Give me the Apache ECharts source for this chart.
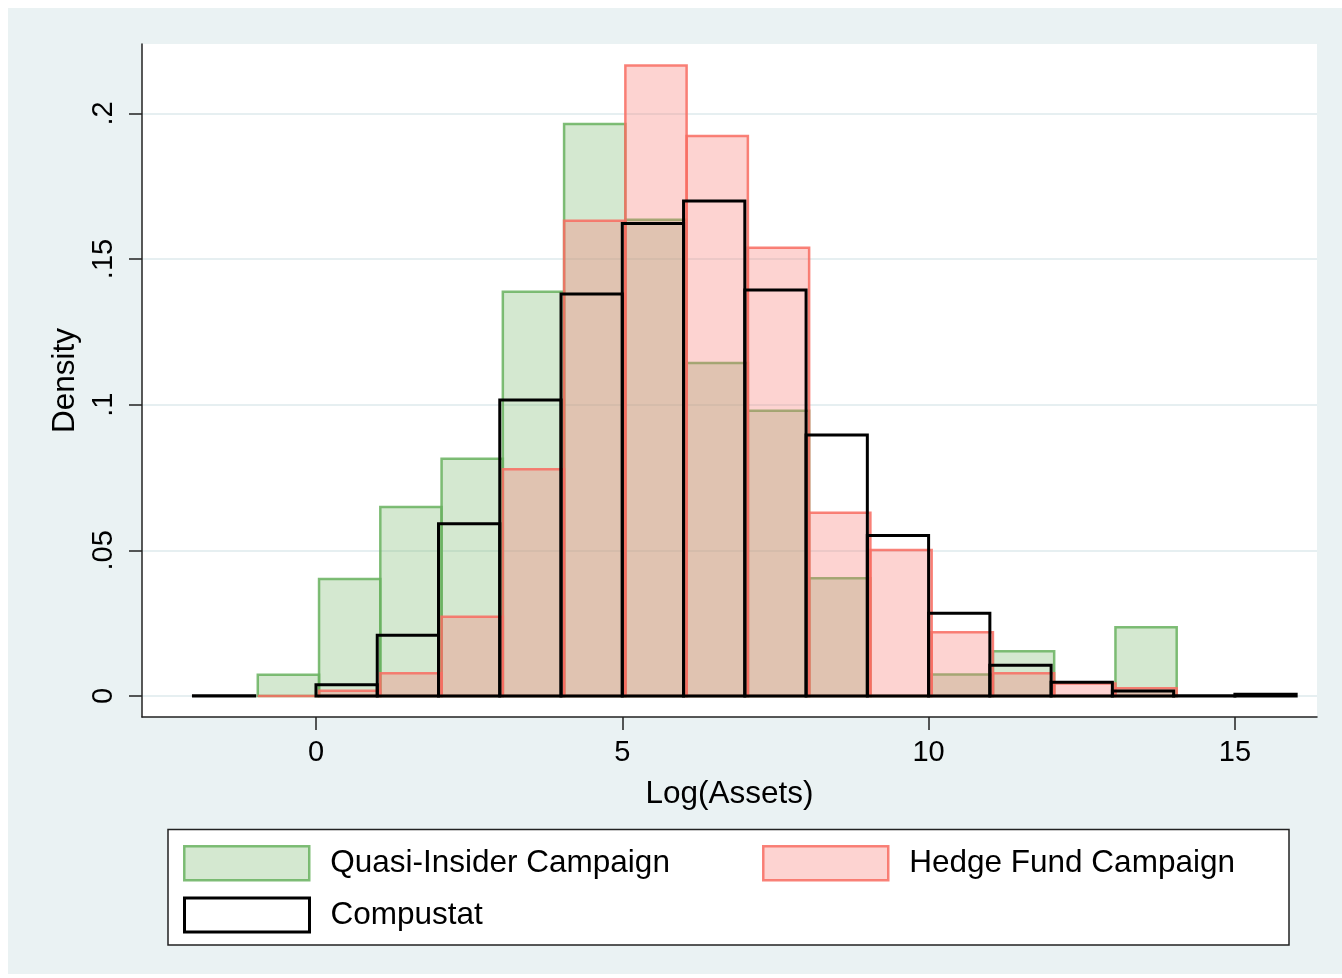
<!DOCTYPE html>
<html>
<head>
<meta charset="utf-8">
<title>Log(Assets) histogram</title>
<script src="https://cdn.jsdelivr.net/npm/echarts@6/dist/echarts.min.js"></script>
<style>
  html, body { margin: 0; padding: 0; background: #ffffff; }
  #chart { width: 1342px; height: 978px; }
</style>
</head>
<body>
<div id="chart"></div>
<script>
// Histogram bin lower edges (bin width 1)
const campaignBinStart = [-0.95, 0.05, 1.05, 2.05, 3.05, 4.05, 5.05, 6.05, 7.05, 8.05, 9.05, 10.05, 11.05, 12.05, 13.05];
const compustatBinStart = [-2, -1, 0, 1, 2, 3, 4, 5, 6, 7, 8, 9, 10, 11, 12, 13, 14, 15];
const binWidth = 1;

// Densities per bin
const quasiInsider = [0.0073, 0.0402, 0.0649, 0.0814, 0.1388, 0.1963, 0.1635, 0.1143, 0.0979, 0.0404, 0, 0.0074, 0.0154, 0, 0.0236];
const hedgeFund = [0, 0.0018, 0.0078, 0.0272, 0.0778, 0.1631, 0.2164, 0.1922, 0.1539, 0.0629, 0.0501, 0.0219, 0.0078, 0.0043, 0.0027];
const compustat = [0.0001, null, 0.0039, 0.0209, 0.0591, 0.1016, 0.1380, 0.1622, 0.1699, 0.1394, 0.0896, 0.0551, 0.0284, 0.0106, 0.0047, 0.0017, 0.0001, 0.0006];

// Axis ticks
const xTickValues = [0, 5, 10, 15];
const xTickLabels = ['0', '5', '10', '15'];
const yTickValues = [0, 0.05, 0.1, 0.15, 0.2];
const yTickLabels = ['0', '.05', '.1', '.15', '.2'];

const seriesNames = ['Quasi-Insider Campaign', 'Hedge Fund Campaign', 'Compustat'];

const styles = {
  quasi: { fill: 'rgba(120,185,110,0.32)', stroke: 'rgba(105,178,95,0.85)', lineWidth: 2.5 },
  hedge: { fill: 'rgba(250,120,115,0.33)', stroke: 'rgba(248,108,98,0.85)', lineWidth: 2.5 },
  comp:  { fill: 'none', stroke: '#000000', lineWidth: 3 }
};

function binData(starts, values) {
  const out = [];
  starts.forEach((s, i) => {
    if (values[i] !== null && values[i] !== undefined) {
      out.push([s, s + binWidth, values[i]]);
    }
  });
  return out;
}

function barRenderer(style) {
  return function (params, api) {
    const p0 = api.coord([api.value(0), 0]);
    const p1 = api.coord([api.value(1), api.value(2)]);
    return {
      type: 'rect',
      shape: { x: p0[0], y: p1[1], width: p1[0] - p0[0], height: p0[1] - p1[1] },
      style: { fill: style.fill, stroke: style.stroke, lineWidth: style.lineWidth }
    };
  };
}

const FONT = "'Liberation Sans', Arial, Helvetica, sans-serif";
const chart = echarts.init(document.getElementById('chart'), null, { renderer: 'canvas' });

function legendFor(name, style, left, top) {
  return {
    data: [{
      name: name,
      icon: 'rect',
      itemStyle: {
        color: style.fill === 'none' ? '#ffffff' : style.fill,
        borderColor: style.stroke,
        borderWidth: style.lineWidth
      }
    }],
    left: left, top: top,
    padding: 0,
    itemWidth: 125, itemHeight: 34,
    selectedMode: false,
    textStyle: { fontFamily: FONT, fontSize: 31.5, color: '#000', padding: [0, 0, 0, 16] }
  };
}

chart.setOption({
  animation: false,
  backgroundColor: '#ffffff',
  graphic: [
    { type: 'rect', z: -10, silent: true, shape: { x: 8, y: 8, width: 1334, height: 966 }, style: { fill: '#eaf2f3' } },
    { type: 'rect', z: -5, silent: true, shape: { x: 168, y: 829.5, width: 1121, height: 115.5 }, style: { fill: '#ffffff', stroke: '#222222', lineWidth: 1.5 } }
  ],
  grid: {
    left: 142, top: 44, right: 25, bottom: 261,
    show: true, backgroundColor: '#ffffff', borderWidth: 0
  },
  legend: [
    legendFor(seriesNames[0], styles.quasi, 183, 845),
    legendFor(seriesNames[1], styles.hedge, 762, 845),
    legendFor(seriesNames[2], styles.comp, 183, 896.5)
  ],
  xAxis: {
    type: 'value',
    min: -2.84, max: 16.34,
    name: 'Log(Assets)',
    nameLocation: 'middle',
    nameGap: 61,
    nameTextStyle: { fontFamily: FONT, fontSize: 31.5, color: '#000' },
    axisLine: { show: true, onZero: false, lineStyle: { color: '#222', width: 1.5 } },
    axisTick: { show: true, length: 13, customValues: xTickValues, lineStyle: { color: '#222', width: 1.5 } },
    axisLabel: {
      customValues: xTickValues,
      margin: 21,
      fontFamily: FONT, fontSize: 29, color: '#000',
      formatter: v => xTickLabels[xTickValues.indexOf(v)]
    },
    splitLine: { show: false }
  },
  yAxis: {
    type: 'value',
    min: -0.0072, max: 0.2238,
    name: 'Density',
    nameLocation: 'middle',
    nameGap: 61,
    nameTextStyle: { fontFamily: FONT, fontSize: 31.5, color: '#000' },
    axisLine: { show: true, onZero: false, lineStyle: { color: '#222', width: 1.5 } },
    axisTick: { show: true, length: 13, customValues: yTickValues, lineStyle: { color: '#222', width: 1.5 } },
    axisLabel: {
      customValues: yTickValues,
      rotate: 90,
      margin: 24,
      fontFamily: FONT, fontSize: 29, color: '#000',
      formatter: v => yTickLabels[yTickValues.indexOf(v)]
    },
    splitLine: { show: true, lineStyle: { color: '#e6eff1', width: 2 } }
  },
  series: [
    {
      name: seriesNames[0], type: 'custom',
      itemStyle: { color: styles.quasi.fill, borderColor: styles.quasi.stroke },
      renderItem: barRenderer(styles.quasi),
      encode: { x: [0, 1], y: 2 },
      data: binData(campaignBinStart, quasiInsider)
    },
    {
      name: seriesNames[1], type: 'custom',
      itemStyle: { color: styles.hedge.fill, borderColor: styles.hedge.stroke },
      renderItem: barRenderer(styles.hedge),
      encode: { x: [0, 1], y: 2 },
      data: binData(campaignBinStart, hedgeFund)
    },
    {
      name: seriesNames[2], type: 'custom',
      itemStyle: { color: '#ffffff', borderColor: '#000' },
      renderItem: barRenderer(styles.comp),
      encode: { x: [0, 1], y: 2 },
      data: binData(compustatBinStart, compustat)
    }
  ]
});
</script>
</body>
</html>
